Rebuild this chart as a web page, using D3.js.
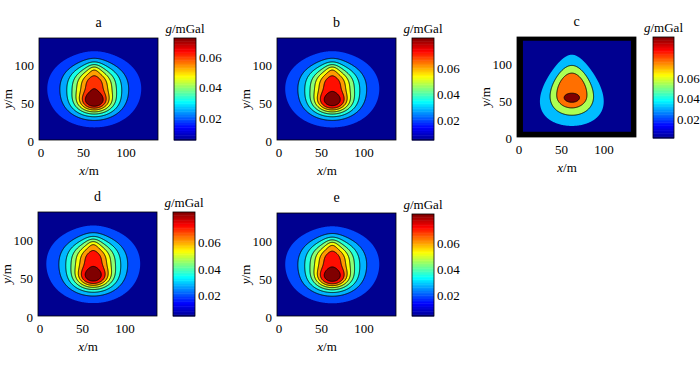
<!DOCTYPE html>
<html>
<head>
<meta charset="utf-8">
<script src="https://cdn.jsdelivr.net/npm/d3@7"></script>
<style>
  body{margin:0;background:#fff;}
  svg text{font-family:"Liberation Serif","Times New Roman",serif;font-size:13px;fill:#000;}
</style>
</head>
<body>
<svg id="fig" width="700" height="367"></svg>
<script>
// axes and colour bars
var xDomain=[0,140], yDomain=[0,135];
var xTicks=[0,50,100], yTicks=[0,50,100], barTicks=[0.02,0.04,0.06];
var panelNames=["a","b","c","d","e"];
var colorMin=[0.0056,0.0053,0.0015,0.0048,0.0048];
var colorMax=[0.0725,0.0831,0.100,0.0827,0.0823];

// contour levels, mGal
var levelsA=[0.0098,0.0177,0.0249,0.0321,0.0393,0.0465,0.0537,0.0610];
var levelsB=[0.0112,0.0203,0.0285,0.0368,0.0450,0.0533,0.0616,0.0723];
var levelsC=[0.0095,0.0320,0.0550,0.0770];
var levelsD=[0.0112,0.0202,0.0284,0.0366,0.0448,0.0530,0.0613,0.0719];
var levelsE=[0.0111,0.0201,0.0282,0.0365,0.0446,0.0528,0.0610,0.0716];

// anomaly sources (also b, d, e) and panel c:
// centre x, centre y, reach in x and y (m), peak (mGal), flatness, decay, upward taper
var srcAx=[65,65,65], srcAy=[50.7,93.7,78.1];
var srcArx=[25.8,11.5,34.4], srcAry=[19.5,12.2,25.9];
var srcAw=[0.0582,0.0130,0.0440], srcAs=[1,1,1], srcAp=[1.5,1.5,1.5], srcAt=[0,0,0];
var srcCx=[64.5,64.5], srcCy=[52.5,63];
var srcCrx=[17,27.5], srcCry=[11,37.5];
var srcCw=[0.0324,0.0676], srcCs=[1,2], srcCp=[4,1.5], srcCt=[0,0.3];
var frameC=[7,6,5,7]; // c: dark edge band, m (left, right, top, bottom)

var layout=[
  {plot:[39,38,119,102], bar:[174,38,22,102]},
  {plot:[277,38,119,102], bar:[412,38,22,102]},
  {plot:[517,37,119,100], bar:[653,37,21,101]},
  {plot:[38,212,119,104], bar:[173,212,22,104]},
  {plot:[277,213,119,103], bar:[412,214,22,102]}
];

var svg=d3.select("#fig");
var jet=d3.scaleLinear().domain([0,0.125,0.375,0.625,0.875,1])
  .range(["#000090","#0000ff","#00ffff","#ffff00","#ff0000","#800000"]).clamp(true);

function model(x,y,rx,ry,w,s,p,t,k){
  return {x:x,y:y,rx:rx,ry:ry,s:s,p:p,t:t,w:w.map(function(v){return v*k;})};
}
function field(src,x,y){
  var f=0;
  for(var k=0;k<src.y.length;k++){
    var dyr=(y-src.y[k])/src.ry[k];
    var fac=Math.max(0.35,1-src.t[k]*dyr);
    var dx=(x-src.x[k])/(src.rx[k]*fac);
    f+=src.w[k]*Math.pow(1+Math.pow(dx*dx+dyr*dyr,src.s[k]),-src.p[k]);
  }
  return f;
}

var sources=[
  model(srcAx,srcAy,srcArx,srcAry,srcAw,srcAs,srcAp,srcAt,1),
  model(srcAx,srcAy,srcArx,srcAry,srcAw,srcAs,srcAp,srcAt,colorMax[1]/colorMax[0]),
  model(srcCx,srcCy,srcCrx,srcCry,srcCw,srcCs,srcCp,srcCt,1),
  model(srcAx,srcAy,srcArx,srcAry,srcAw,srcAs,srcAp,srcAt,colorMax[3]/colorMax[0]),
  model(srcAx,srcAy,srcArx,srcAry,srcAw,srcAs,srcAp,srcAt,colorMax[4]/colorMax[0])
];
var levels=[levelsA,levelsB,levelsC,levelsD,levelsE];

var nx=280, ny=270, cw=(xDomain[1]-xDomain[0])/nx, ch=(yDomain[1]-yDomain[0])/ny;

function drawPanel(i){
  var L=layout[i], P=L.plot, B=L.bar, src=sources[i], lv=levels[i];
  var cmin=colorMin[i], cmax=colorMax[i];
  var xs=d3.scaleLinear().domain(xDomain).range([P[0],P[0]+P[2]]);
  var ys=d3.scaleLinear().domain(yDomain).range([P[1]+P[3],P[1]]);
  var tone=function(v){return jet((v-cmin)/(cmax-cmin));};
  var g=svg.append("g");

  var values=new Float64Array(nx*ny);
  for(var j=0;j<ny;j++)for(var k=0;k<nx;k++)values[j*nx+k]=field(src,(k+0.5)*cw,(j+0.5)*ch);
  var cont=d3.contours().size([nx,ny]).thresholds(lv)(values);
  var path=d3.geoPath(d3.geoTransform({point:function(px,py){this.stream.point(xs(px*cw),ys(py*ch));}}));

  var clipId="clip"+i, x0=xDomain[0], x1=xDomain[1], y0=yDomain[0], y1=yDomain[1];
  if(i===2){
    g.append("rect").attr("x",P[0]).attr("y",P[1]).attr("width",P[2]).attr("height",P[3]).attr("fill","#000");
    x0=frameC[0];x1=xDomain[1]-frameC[1];y1=yDomain[1]-frameC[2];y0=frameC[3];
  }
  g.append("clipPath").attr("id",clipId).append("rect")
    .attr("x",xs(x0)).attr("y",ys(y1)).attr("width",xs(x1)-xs(x0)).attr("height",ys(y0)-ys(y1));
  var gc=g.append("g").attr("clip-path","url(#"+clipId+")");
  gc.append("rect").attr("x",P[0]).attr("y",P[1]).attr("width",P[2]).attr("height",P[3]).attr("fill",tone(cmin));
  gc.selectAll("path.band").data(cont).join("path").attr("class","band").attr("d",path)
    .attr("fill",function(d,k){return tone(k<lv.length-1?lv[k+1]:cmax);});
  gc.selectAll("path.line").data(cont.slice(1)).join("path").attr("class","line").attr("d",path)
    .attr("fill","none").attr("stroke","#000").attr("stroke-width",0.9);
  g.append("rect").attr("x",P[0]).attr("y",P[1]).attr("width",P[2]).attr("height",P[3])
    .attr("fill","none").attr("stroke","#000").attr("stroke-width",0.8);

  // axis labels
  g.selectAll("text.xt").data(xTicks).join("text").attr("class","xt")
    .attr("x",function(d){return xs(d)+2;}).attr("y",P[1]+P[3]+17).attr("text-anchor","middle").text(function(d){return d;});
  g.selectAll("text.yt").data(yTicks).join("text").attr("class","yt")
    .attr("x",P[0]-5).attr("y",function(d){return ys(d)+6;}).attr("text-anchor","end").text(function(d){return d;});
  g.append("text").attr("x",P[0]+P[2]/2).attr("y",P[1]-11).attr("text-anchor","middle").style("font-size","14px").text(panelNames[i]);
  var xl=g.append("text").attr("x",P[0]+50).attr("y",P[1]+P[3]+35).attr("text-anchor","middle");
  xl.append("tspan").style("font-style","italic").text("x");xl.append("tspan").text("/m");
  var yl=g.append("text").attr("transform","translate("+(P[0]-27)+","+(P[1]+P[3]/2+10)+") rotate(-90)").attr("text-anchor","middle");
  yl.append("tspan").style("font-style","italic").text("y");yl.append("tspan").text("/m");

  // colour bar
  var bs=d3.scaleLinear().domain([cmin,cmax]).range([B[1]+B[3],B[1]]);
  g.selectAll("rect.cb").data(d3.range(64)).join("rect").attr("class","cb")
    .attr("x",B[0]).attr("width",B[2])
    .attr("y",function(k){return bs(cmin+(k+1)/64*(cmax-cmin));})
    .attr("height",function(k){return bs(cmin+k/64*(cmax-cmin))-bs(cmin+(k+1)/64*(cmax-cmin))+0.5;})
    .attr("fill",function(k){return jet((k+0.5)/64);});
  g.append("rect").attr("x",B[0]).attr("y",B[1]).attr("width",B[2]).attr("height",B[3])
    .attr("fill","none").attr("stroke","#000").attr("stroke-width",0.8);
  g.selectAll("text.bt").data(barTicks).join("text").attr("class","bt")
    .attr("x",B[0]+B[2]+3).attr("y",function(d){return bs(d)+4.5;}).text(function(d){return d.toFixed(2);});
  var ul=g.append("text").attr("x",B[0]+B[2]/2).attr("y",B[1]-5).attr("text-anchor","middle");
  ul.append("tspan").style("font-style","italic").text("g");ul.append("tspan").text("/mGal");
}
d3.range(5).forEach(drawPanel);
</script>
</body>
</html>
